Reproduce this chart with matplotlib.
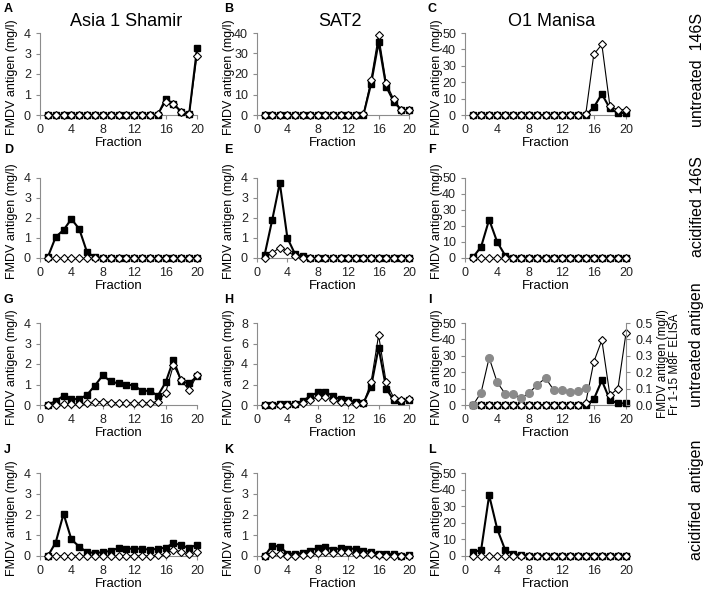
import numpy as np
import matplotlib
matplotlib.use("Agg")
import matplotlib.pyplot as plt

plt.rcParams['font.family'] = ['Liberation Sans', 'DejaVu Sans']

fractions = np.arange(1, 21)

# filled squares (black) and open diamonds, one pair per panel
sq_A = [0, 0, 0, 0, 0, 0, 0, 0, 0, 0, 0, 0, 0, 0, 0, 0.78, 0.55, 0.15, 0.05, 3.25]
di_A = [0, 0, 0, 0, 0, 0, 0, 0, 0, 0, 0, 0, 0, 0, 0.05, 0.62, 0.54, 0.15, 0.05, 2.9]
sq_B = [0, 0, 0, 0, 0, 0, 0, 0, 0, 0, 0, 0, 0, 0, 15, 35.5, 13.8, 6.5, 2.4, 2.4]
di_B = [0, 0, 0, 0, 0, 0, 0, 0, 0, 0, 0, 0, 0, 0.3, 17, 39, 15.5, 7.6, 2.2, 2.5]
sq_C = [0, 0, 0, 0, 0, 0, 0, 0, 0, 0, 0, 0, 0, 0, 0, 4.7, 12.8, 4, 1.2, 1.2]
di_C = [0, 0, 0, 0, 0, 0, 0, 0, 0, 0, 0, 0, 0, 0, 0.5, 37, 43, 5.5, 3, 3.3]

sq_D = [0.05, 1.05, 1.4, 1.95, 1.45, 0.28, 0.05, 0, 0, 0, 0, 0, 0, 0, 0, 0, 0, 0, 0, 0]
di_D = [0] * 20
sq_E = [0.15, 1.9, 3.75, 1.0, 0.2, 0.08, 0, 0, 0, 0, 0, 0, 0, 0, 0, 0, 0, 0, 0, 0]
di_E = [0.02, 0.25, 0.52, 0.33, 0.1, 0.02, 0, 0, 0, 0, 0, 0, 0, 0, 0, 0, 0, 0, 0, 0]
sq_F = [0.5, 7, 24, 10, 1.5, 0.3, 0.3, 0.3, 0.3, 0.3, 0.3, 0.3, 0.3, 0.3, 0.3, 0.3, 0.3, 0.3, 0.3, 0.3]
di_F = [0] * 20

sq_G = [0, 0.2, 0.45, 0.3, 0.28, 0.5, 0.95, 1.45, 1.15, 1.05, 1.0, 0.95, 0.68, 0.7, 0.45, 1.1, 2.2, 1.15, 1.05, 1.4]
di_G = [0, 0.02, 0.05, 0.03, 0.05, 0.08, 0.15, 0.17, 0.12, 0.1, 0.1, 0.1, 0.08, 0.12, 0.15, 0.6, 1.95, 1.2, 0.72, 1.45]
sq_H = [0, 0.02, 0.1, 0.05, 0.1, 0.4, 0.85, 1.25, 1.3, 0.85, 0.55, 0.45, 0.3, 0.2, 1.75, 5.6, 1.6, 0.45, 0.35, 0.5]
di_H = [0, 0, 0, 0, 0.05, 0.2, 0.5, 0.8, 0.75, 0.45, 0.3, 0.25, 0.1, 0.15, 2.2, 6.8, 2.2, 0.7, 0.45, 0.55]
sq_I = [0, 0, 0, 0, 0, 0, 0, 0, 0, 0, 0, 0, 0, 0, 0, 3.5, 15, 3, 1, 1]
di_I = [0, 0, 0, 0, 0, 0, 0, 0, 0, 0, 0, 0, 0, 0, 1.4, 26.3, 39.5, 6, 10, 43.8]
# grey circles, right axis of panel I (fractions 1-15, M8F ELISA)
elisa_I = [0.0, 0.076, 0.288, 0.138, 0.068, 0.065, 0.041, 0.076, 0.123, 0.165, 0.093, 0.093, 0.08, 0.085, 0.103]

sq_J = [0, 0.65, 2.03, 0.8, 0.45, 0.18, 0.15, 0.18, 0.25, 0.38, 0.35, 0.35, 0.35, 0.3, 0.35, 0.4, 0.62, 0.52, 0.38, 0.55]
di_J = [0, 0, 0, 0, 0, 0, 0, 0, 0, 0, 0, 0, 0, 0, 0.05, 0.08, 0.3, 0.2, 0.12, 0.18]
sq_K = [0, 0.5, 0.45, 0.12, 0.1, 0.15, 0.25, 0.4, 0.45, 0.3, 0.38, 0.35, 0.35, 0.25, 0.2, 0.12, 0.1, 0.08, 0.02, 0.05]
di_K = [0, 0.08, 0.08, 0, 0.02, 0.05, 0.1, 0.15, 0.2, 0.15, 0.2, 0.18, 0.12, 0.1, 0.08, 0.05, 0.02, 0.02, 0, 0.02]
sq_L = [2.4, 3.5, 36.6, 16.3, 3.5, 1.2, 0.6, 0.3, 0.3, 0.3, 0.3, 0.3, 0.3, 0.3, 0.3, 0.3, 0.3, 0.3, 0.3, 0.3]
di_L = [0] * 20

panel_letters = ["A", "B", "C", "D", "E", "F", "G", "H", "I", "J", "K", "L"]
squares = [sq_A, sq_B, sq_C, sq_D, sq_E, sq_F, sq_G, sq_H, sq_I, sq_J, sq_K, sq_L]
diamonds = [di_A, di_B, di_C, di_D, di_E, di_F, di_G, di_H, di_I, di_J, di_K, di_L]
y_max = [4, 40, 50, 4, 4, 50, 4, 8, 50, 4, 4, 50]
y_step = [1, 10, 10, 1, 1, 10, 1, 2, 10, 1, 1, 10]
col_titles = ["Asia 1 Shamir", "SAT2", "O1 Manisa"]
row_labels = ["untreated  146S", "acidified 146S", "untreated antigen", "acidified  antigen"]

W, H = 708, 592
fig = plt.figure(figsize=(W / 100, H / 100), dpi=100)

# pixel boxes: (left, right) per column, (top, bottom) per row
cols = [(40, 197), (257, 409), (465, 626)]
rows = [(33, 115), (178, 258), (323, 405), (473, 556)]
letter_x = [4, 224, 428]
letter_y = [9, 150, 300, 450]
grey = "#8c8c8c"

def style_axis(ax):
    for s in ["top", "right"]:
        ax.spines[s].set_visible(False)
    for s in ["left", "bottom"]:
        ax.spines[s].set_color(grey)
        ax.spines[s].set_linewidth(0.8)
    ax.tick_params(colors=grey, labelcolor="#222222", labelsize=9, length=3, width=0.8)

axes = []
for i in range(12):
    r, c = divmod(i, 3)
    l, rr = cols[c]
    t, b = rows[r]
    w, h = rr - l, b - t
    ax = fig.add_axes([l / W, 1 - b / H, w / W, h / H])
    style_axis(ax)
    ax.plot(fractions, squares[i], color="black", lw=1.5, marker="s", ms=5,
            mfc="black", mec="black", clip_on=False, zorder=3)
    ax.plot(fractions, diamonds[i], color="black", lw=0.8, marker="D", ms=3.9,
            mfc="white", mec="black", mew=0.8, clip_on=False, zorder=4)
    ax.set_xlim(0, 20)
    ax.set_xticks(range(0, 21, 4))
    ax.set_ylim(0, y_max[i])
    ax.set_yticks(np.arange(0, y_max[i] + 0.01, y_step[i]))
    ax.set_xlabel("Fraction", fontsize=9.5, labelpad=1)
    ax.set_ylabel("FMDV antigen (mg/l)", fontsize=9)
    ax.yaxis.set_label_coords(-22 / w, 0.46)
    fig.text(letter_x[c] / W, 1 - letter_y[r] / H, panel_letters[i],
             fontsize=9, fontweight="bold", ha="left", va="center")
    axes.append(ax)

# right axis of panel I
ax2 = axes[8].twinx()
ax2.set_position(axes[8].get_position())
for s in ["top", "left", "bottom"]:
    ax2.spines[s].set_visible(False)
ax2.spines["right"].set_color(grey)
ax2.spines["right"].set_linewidth(0.8)
ax2.tick_params(colors=grey, labelcolor="#222222", labelsize=9, length=3, width=0.8)
ax2.plot(fractions[:len(elisa_I)], elisa_I, color="black", lw=0.8, marker="o", ms=5.5,
         mfc="#8a8a8a", mec="#8a8a8a", clip_on=False, zorder=2)
ax2.set_ylim(0, 0.5)
ax2.set_yticks(np.arange(0, 0.51, 0.1))
ax2.set_yticklabels([f"{v:.1f}" for v in np.arange(0, 0.51, 0.1)])
ax2.set_ylabel("FMDV antigen (mg/l)\nFr 1-15 M8F ELISA", fontsize=8.5, linespacing=1.0)
ax2.yaxis.set_label_coords(1 + 31 / 161, 0.5)

col_cx = [126, 340, 552]
for c in range(3):
    fig.text(col_cx[c] / W, 1 - 22 / H, col_titles[c], fontsize=13, ha="center", va="center")

row_cy = [70, 207, 345, 500]
for r in range(4):
    fig.text(697 / W, 1 - row_cy[r] / H, row_labels[r], fontsize=11.5, rotation=90,
             ha="center", va="center")

fig.savefig("out.png", dpi=100)
